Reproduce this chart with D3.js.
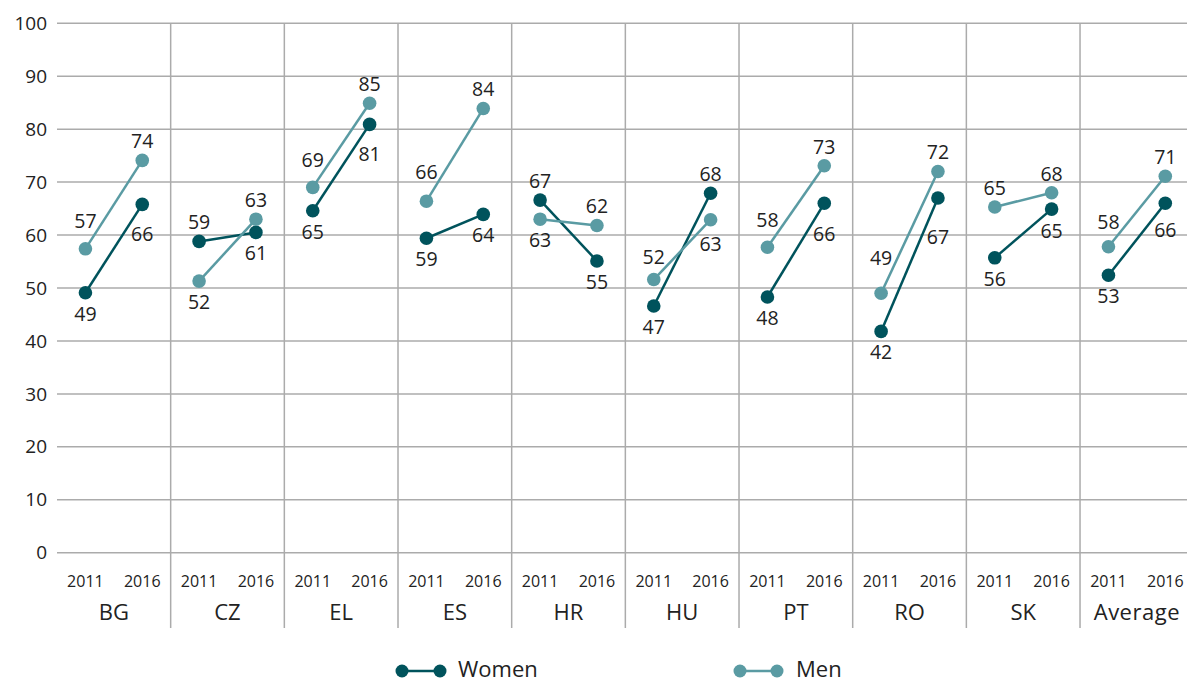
<!DOCTYPE html>
<html>
<head>
<meta charset="utf-8">
<script src="https://cdn.jsdelivr.net/npm/d3@7"></script>
<style>
  html, body { margin: 0; padding: 0; background: #fff; }
  svg { display: block; font-family: "Open Sans", "Noto Sans", sans-serif; }
</style>
</head>
<body>
<svg id="chart" width="1187" height="682"></svg>
<script>
const categories = ["BG", "CZ", "EL", "ES", "HR", "HU", "PT", "RO", "SK", "Average"];
const years = ["2011", "2016"];
// [2011, 2016] per category
const women = [
  [49.1, 65.8], [58.8, 60.5], [64.6, 80.9], [59.4, 63.9], [66.6, 55.1],
  [46.6, 67.9], [48.3, 66.0], [41.8, 67.0], [55.7, 64.9], [52.4, 66.0]
];
const men = [
  [57.4, 74.1], [51.3, 63.0], [69.0, 84.9], [66.4, 83.9], [63.0, 61.8],
  [51.6, 62.9], [57.7, 73.1], [49.0, 72.0], [65.3, 68.0], [57.8, 71.1]
];
const womenLabels = [
  [49, 66], [59, 61], [65, 81], [59, 64], [67, 55],
  [47, 68], [48, 66], [42, 67], [56, 65], [53, 66]
];
const menLabels = [
  [57, 74], [52, 63], [69, 85], [66, 84], [63, 62],
  [52, 63], [58, 73], [49, 72], [65, 68], [58, 71]
];
const yTicks = [0, 10, 20, 30, 40, 50, 60, 70, 80, 90, 100];
const seriesNames = ["Women", "Men"];

const colors = { Women: "#00535c", Men: "#5a9ba3" };
const gridColor = "#ababab";
const textColor = "#222";

const svg = d3.select("#chart");
const plotLeft = 57, plotTop = 23.3, plotBottom = 552.7;
const panelW = 113.67;

const x = d3.scaleBand().domain(categories).range([plotLeft, plotLeft + panelW * categories.length]).padding(0);
const xi = d3.scalePoint().domain(years).range([0, x.bandwidth()]).padding(0.5);
const y = d3.scaleLinear().domain([0, 100]).range([plotBottom, plotTop]);

// horizontal gridlines
svg.append("g").selectAll("line").data(yTicks).join("line")
  .attr("x1", plotLeft).attr("x2", 1187)
  .attr("y1", d => y(d)).attr("y2", d => y(d))
  .attr("stroke", gridColor).attr("stroke-width", 1.5);

// y tick labels
svg.append("g").selectAll("text").data(yTicks).join("text")
  .attr("x", 47).attr("y", d => y(d)).attr("dy", "0.35em")
  .attr("text-anchor", "end").attr("font-size", 19).attr("fill", textColor)
  .text(d => d);

// vertical dividers
svg.append("g").selectAll("line").data(categories.slice(1)).join("line")
  .attr("x1", d => x(d)).attr("x2", d => x(d))
  .attr("y1", plotTop).attr("y2", 628)
  .attr("stroke", gridColor).attr("stroke-width", 1.5);

// year labels
const yearG = svg.append("g");
categories.forEach(c => {
  years.forEach(yr => {
    yearG.append("text")
      .attr("x", x(c) + xi(yr)).attr("y", 586.5)
      .attr("text-anchor", "middle").attr("font-size", 16).attr("fill", textColor)
      .text(yr);
  });
});

// category labels
svg.append("g").selectAll("text").data(categories).join("text")
  .attr("x", d => x(d) + x.bandwidth() / 2).attr("y", 619.5)
  .attr("text-anchor", "middle").attr("font-size", 22).attr("fill", textColor)
  .attr("letter-spacing", d => d === "Average" ? "0.5px" : "0px")
  .text(d => d);

// series lines & points
const series = [
  { name: "Women", vals: women, labels: womenLabels },
  { name: "Men", vals: men, labels: menLabels }
];
const line = d3.line().x(d => d.x).y(d => d.y);

series.forEach((s, si) => {
  const g = svg.append("g");
  categories.forEach((c, ci) => {
    const pts = years.map((yr, yi) => ({ x: x(c) + xi(yr), y: y(s.vals[ci][yi]) }));
    g.append("path").attr("d", line(pts)).attr("fill", "none")
      .attr("stroke", colors[s.name]).attr("stroke-width", 2.5);
    pts.forEach(p => {
      g.append("circle").attr("cx", p.x).attr("cy", p.y).attr("r", 6.8)
        .attr("fill", colors[s.name]);
    });
  });
});

// data labels (higher series labelled above, lower below)
const labG = svg.append("g");
series.forEach((s, si) => {
  const other = series[1 - si];
  categories.forEach((c, ci) => {
    years.forEach((yr, yi) => {
      const v = s.vals[ci][yi];
      const above = v >= other.vals[ci][yi];
      const diff = s.vals[ci][1] - s.vals[ci][0];
      let toward = 0;
      if (yi === 0 && above && diff > 0) toward = diff;
      if (yi === 0 && !above && diff < 0) toward = -diff;
      if (yi === 1 && !above && diff > 0) toward = diff;
      if (yi === 1 && above && diff < 0) toward = -diff;
      const extra = Math.max(0, toward - 8) * 1.05;
      const off = above ? -(19 + extra) : (21 + extra);
      labG.append("text")
        .attr("x", x(c) + xi(yr)).attr("y", y(v) + off).attr("dy", "0.35em")
        .attr("text-anchor", "middle").attr("font-size", 19.5).attr("fill", textColor)
        .text(s.labels[ci][yi]);
    });
  });
});

// legend
const legend = [
  { name: "Women", x0: 402, x1: 440, tx: 458 },
  { name: "Men", x0: 740, x1: 777, tx: 796 }
];
const lg = svg.append("g");
legend.forEach(l => {
  lg.append("line").attr("x1", l.x0).attr("x2", l.x1).attr("y1", 671).attr("y2", 671)
    .attr("stroke", colors[l.name]).attr("stroke-width", 2.5);
  [l.x0, l.x1].forEach(cx => lg.append("circle").attr("cx", cx).attr("cy", 671).attr("r", 6.5).attr("fill", colors[l.name]));
  lg.append("text").attr("x", l.tx).attr("y", 677).attr("font-size", 22).attr("fill", textColor).text(l.name);
});
</script>
</body>
</html>
